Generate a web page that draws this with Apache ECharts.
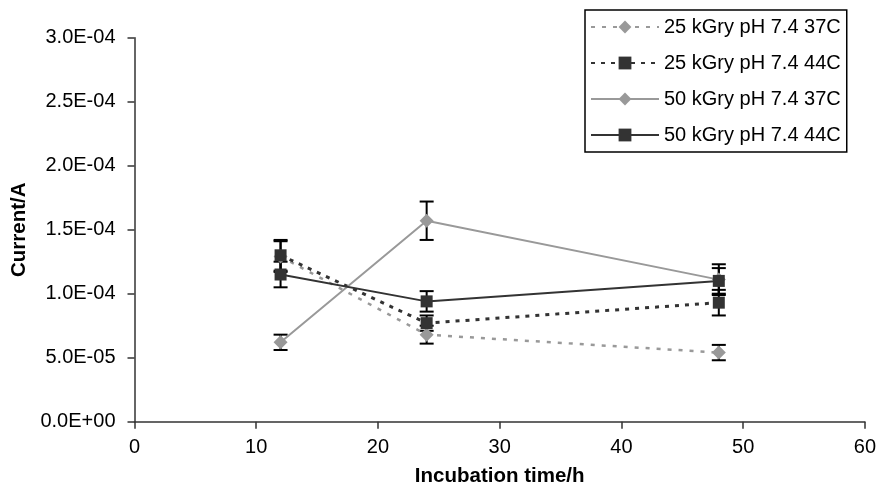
<!DOCTYPE html>
<html>
<head>
<meta charset="utf-8">
<script src="https://cdn.jsdelivr.net/npm/echarts@6/dist/echarts.min.js"></script>
<style>
html,body{margin:0;padding:0;background:#fff;}
#chart{width:879px;height:494px;}
</style>
</head>
<body>
<div id="chart"></div>
<script>
// ---- data ----
var times = [12, 24, 48];
var seriesNames = ['25 kGry pH 7.4 37C', '25 kGry pH 7.4 44C', '50 kGry pH 7.4 37C', '50 kGry pH 7.4 44C'];
var s25_37 = [1.29e-4, 6.8e-5, 5.4e-5];
var s25_37err = [1.2e-5, 7e-6, 6e-6];
var s25_44 = [1.30e-4, 7.7e-5, 9.3e-5];
var s25_44err = [1.2e-5, 6e-6, 1.0e-5];
var s50_37 = [6.2e-5, 1.57e-4, 1.11e-4];
var s50_37err = [6e-6, 1.5e-5, 1.2e-5];
var s50_44 = [1.15e-4, 9.4e-5, 1.10e-4];
var s50_44err = [1.0e-5, 8e-6, 1.0e-5];
var yTickLabels = ['0.0E+00', '5.0E-05', '1.0E-04', '1.5E-04', '2.0E-04', '2.5E-04', '3.0E-04'];
var xTickLabels = ['0', '10', '20', '30', '40', '50', '60'];

var FONT = 'Liberation Sans, Arial, sans-serif';
var LIGHT = '#999999';
var DARK = '#333333';

function pts(vals) { return times.map(function (t, i) { return [t, vals[i]]; }); }
function errPts(vals, errs) { return times.map(function (t, i) { return [t, vals[i], errs[i]]; }); }

function errSeries(vals, errs) {
  return {
    type: 'custom',
    silent: true,
    z: 1,
    data: errPts(vals, errs),
    renderItem: function (params, api) {
      var x = api.value(0), y = api.value(1), e = api.value(2);
      var top = api.coord([x, y + e]);
      var bot = api.coord([x, y - e]);
      var h = 7;
      var st = { stroke: '#000', lineWidth: 2 };
      return {
        type: 'group',
        children: [
          { type: 'line', shape: { x1: top[0], y1: top[1], x2: bot[0], y2: bot[1] }, style: st },
          { type: 'line', shape: { x1: top[0] - h, y1: top[1], x2: top[0] + h, y2: top[1] }, style: st },
          { type: 'line', shape: { x1: bot[0] - h, y1: bot[1], x2: bot[0] + h, y2: bot[1] }, style: st }
        ]
      };
    }
  };
}

function lineSeries(name, vals, color, width, type, symbol, size) {
  return {
    name: name,
    type: 'line',
    z: 3,
    data: pts(vals),
    symbol: symbol,
    symbolSize: size,
    showAllSymbol: true,
    itemStyle: { color: color, borderWidth: 0 },
    lineStyle: { color: color, width: width, type: type },
    emphasis: { disabled: true },
    animation: false
  };
}

var chart = echarts.init(document.getElementById('chart'), null, { renderer: 'canvas' });
chart.setOption({
  animation: false,
  backgroundColor: '#ffffff',
  textStyle: { fontFamily: FONT },
  grid: { left: 134.5, right: 13.3, top: 37.7, bottom: 72.3, containLabel: false },
  legend: {
    orient: 'vertical',
    left: 585,
    top: 10,
    padding: [7, 6, 7, 5],
    itemGap: 16,
    itemWidth: 68,
    itemHeight: 16,
    borderColor: '#000',
    borderWidth: 1.5,
    backgroundColor: '#fff',
    data: seriesNames,
    textStyle: { fontFamily: FONT, fontSize: 20, color: '#000' }
  },
  xAxis: {
    type: 'value',
    min: 0, max: 60, interval: 10,
    name: 'Incubation time/h',
    nameLocation: 'middle',
    nameGap: 44,
    nameTextStyle: { fontFamily: FONT, fontSize: 20.5, fontWeight: 'bold', color: '#000' },
    axisLine: { show: true, onZero: false, lineStyle: { color: '#333', width: 1.5 } },
    axisTick: { show: true, inside: false, length: 7, lineStyle: { color: '#333', width: 1.5 } },
    axisLabel: {
      margin: 16, fontFamily: FONT, fontSize: 20, color: '#000',
      formatter: function (v) { return xTickLabels[Math.round(v / 10)]; }
    },
    splitLine: { show: false }
  },
  yAxis: {
    type: 'value',
    min: 0, max: 3e-4, interval: 5e-5,
    name: 'Current/A',
    nameLocation: 'middle',
    nameGap: 101,
    nameRotate: 90,
    nameTextStyle: { fontFamily: FONT, fontSize: 20.5, fontWeight: 'bold', color: '#000' },
    axisLine: { show: true, onZero: false, lineStyle: { color: '#333', width: 1.5 } },
    axisTick: { show: true, inside: false, length: 7, lineStyle: { color: '#333', width: 1.5 } },
    axisLabel: {
      margin: 19, fontFamily: FONT, fontSize: 20, color: '#000',
      formatter: function (v) { return yTickLabels[Math.round(v / 5e-5)]; }
    },
    splitLine: { show: false }
  },
  series: [
    errSeries(s25_37, s25_37err),
    errSeries(s25_44, s25_44err),
    errSeries(s50_37, s50_37err),
    errSeries(s50_44, s50_44err),
    lineSeries(seriesNames[0], s25_37, LIGHT, 2.5, [4, 7], 'diamond', 14),
    lineSeries(seriesNames[1], s25_44, DARK, 3, [4, 6], 'rect', 12),
    lineSeries(seriesNames[2], s50_37, LIGHT, 2, 'solid', 'diamond', 14),
    lineSeries(seriesNames[3], s50_44, DARK, 2, 'solid', 'rect', 12)
  ]
});
</script>
</body>
</html>
